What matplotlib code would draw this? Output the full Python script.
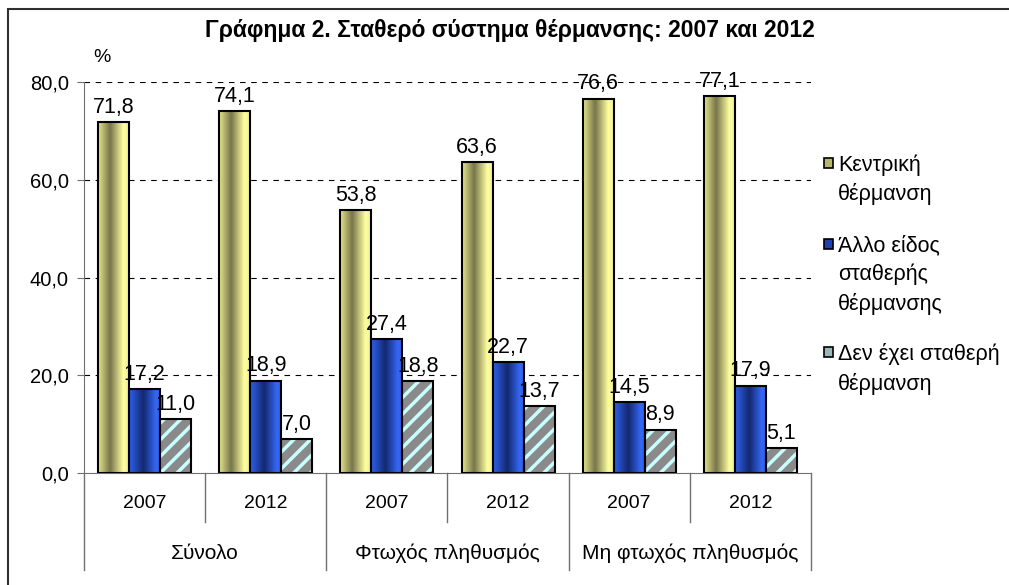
import numpy as np
import matplotlib
matplotlib.use("Agg")
import matplotlib.pyplot as plt
from matplotlib.colors import LinearSegmentedColormap
from matplotlib.patches import Rectangle

# data
years = ["2007", "2012", "2007", "2012", "2007", "2012"]
groups = ["Σύνολο", "Φτωχός πληθυσμός", "Μη φτωχός πληθυσμός"]
central = [71.8, 74.1, 53.8, 63.6, 76.6, 77.1]
other = [17.2, 18.9, 27.4, 22.7, 14.5, 17.9]
no_heat = [11.0, 7.0, 18.8, 13.7, 8.9, 5.1]
series_names = ["Κεντρική\nθέρμανση", "Άλλο είδος\nσταθερής\nθέρμανσης",
                "Δεν έχει σταθερή\nθέρμανση"]
yticks = [0, 20, 40, 60, 80]

plt.rcParams["font.family"] = ["Liberation Sans", "DejaVu Sans"]

W, H = 1009, 585
fig = plt.figure(figsize=(W / 100, H / 100), dpi=100)
ax = fig.add_axes([84 / W, (H - 473) / H, 727 / W, 391 / H])

yellow = LinearSegmentedColormap.from_list(
    "yel", [(0, "#E4E48A"), (0.38, "#77754A"), (0.8, "#FFFFA0"), (1, "#EEEE92")])
blue = LinearSegmentedColormap.from_list(
    "blu", [(0, "#2E60EE"), (0.45, "#14286E"), (0.85, "#3468F6"), (1, "#2C5CE6")])

x = np.arange(len(years))
w = 0.256
grad = np.linspace(0, 1, 64).reshape(1, -1)


def gradient_bars(bars, cmap):
    for b in bars:
        x0, h = b.get_x(), b.get_height()
        im = ax.imshow(grad, extent=[x0, x0 + b.get_width(), 0, h],
                       aspect="auto", cmap=cmap, zorder=2, interpolation="bicubic")
        im.set_clip_path(b)


b1 = ax.bar(x - w, central, w, color="none", edgecolor="black", linewidth=1.5, zorder=3)
gradient_bars(b1, yellow)
b2 = ax.bar(x, other, w, color="none", edgecolor="black", linewidth=1.5, zorder=3)
gradient_bars(b2, blue)
plt.rcParams["hatch.linewidth"] = 2.5
ax.bar(x + w, no_heat, w, color="#8A8A8A", edgecolor="#C8FFFF", hatch="//",
       linewidth=0, zorder=2)
b3 = ax.bar(x + w, no_heat, w, color="none", edgecolor="black", linewidth=1.5, zorder=3)

for bars, vals in [(b1, central), (b2, other), (b3, no_heat)]:
    for b, v in zip(bars, vals):
        ax.annotate(f"{v:.1f}".replace(".", ","),
                    (b.get_x() + b.get_width() / 2, v), xytext=(0, 3),
                    textcoords="offset points", ha="center", va="bottom",
                    fontsize=15.5)

ax.set_xlim(-0.5, len(years) - 0.5)
ax.set_ylim(0, 80)
ax.set_yticks(yticks)
ax.set_yticklabels([f"{t:.1f}".replace(".", ",") for t in yticks], fontsize=14.5)
ax.tick_params(axis="y", direction="out", length=5, color="#707070", pad=6)
ax.set_xticks([])
for t in yticks[1:]:
    ax.axhline(t, color="black", linewidth=0.8, dashes=(5, 5), zorder=1)
for s in ["top", "right"]:
    ax.spines[s].set_visible(False)
ax.spines["left"].set_color("#707070")
ax.spines["bottom"].set_color("#707070")

# two-level category axis
tr = ax.get_xaxis_transform()
for i, yr in enumerate(years):
    ax.text(i, -0.077, yr, transform=tr, ha="center", va="center", fontsize=14)
for i in range(len(years) + 1):
    bottom = -0.248 if i % 2 == 0 else -0.125
    ax.plot([i - 0.5, i - 0.5], [0, bottom], transform=tr, color="#707070",
            linewidth=1, clip_on=False)
for j, g in enumerate(groups):
    ax.text(2 * j + 0.5, -0.205, g, transform=tr, ha="center", va="center",
            fontsize=15)

fig.text(102 / W, 1 - 57 / H, "%", fontsize=14, ha="center", va="center")
fig.text(510 / W, 1 - 30 / H, "Γράφημα 2. Σταθερό σύστημα θέρμανσης: 2007 και 2012",
         fontsize=16.5, fontweight="bold", ha="center", va="center")

# legend
marker_cols = ["#B8B570", "#2240B0", "#9AB8B8"]
ys = [163, 244, 352]
for name, col, yy in zip(series_names, marker_cols, ys):
    fig.patches.append(Rectangle((824 / W, 1 - (yy + 5) / H), 9 / W, 10 / H,
                                 transform=fig.transFigure, facecolor=col,
                                 edgecolor="black", linewidth=1.2))
    fig.text(838 / W, 1 - (yy - 9) / H, name, fontsize=15.5, ha="left",
             va="top", linespacing=1.45)

# chart frame
fig.patches.append(Rectangle((8 / W, -0.1), 1.2, 1.1 - 9 / H,
                             transform=fig.transFigure, facecolor="none",
                             edgecolor="#303030", linewidth=1.5))

fig.savefig("out.png", dpi=100)
